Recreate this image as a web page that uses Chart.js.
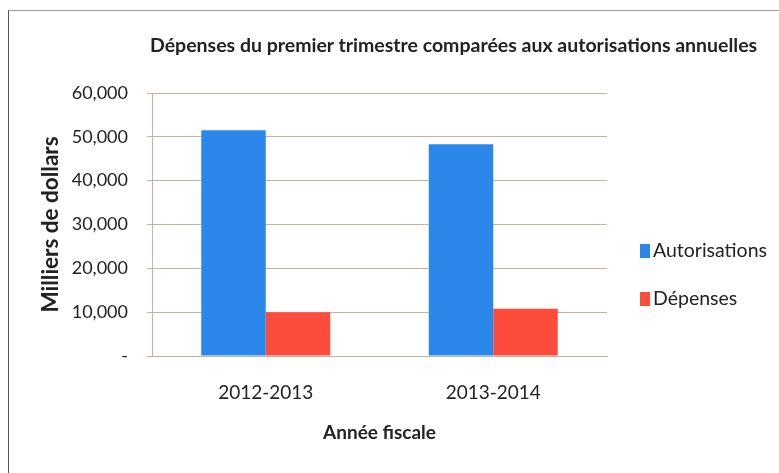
<!DOCTYPE html>
<html>
<head>
<meta charset="utf-8">
<script src="https://cdn.jsdelivr.net/npm/chart.js@4.4.1/dist/chart.umd.min.js"></script>
<style>
    html, body { margin: 0; padding: 0; background: #fff; }
    #wrap { position: relative; width: 779px; height: 473px; overflow: hidden; font-family: Lato, 'Open Sans', sans-serif; }
    #frame { position: absolute; left: 8px; top: 10px; width: 800px; height: 500px; border-top: 1px solid #9a9a9a; border-left: 1px solid #555; }
    #titre { position: absolute; left: 150px; top: 33px; width: 606px; text-align: center; font-size: 19.5px; font-weight: bold; color: #222; white-space: nowrap; }
    #legende { position: absolute; left: 640px; top: 238px; font-size: 19.5px; color: #222; }
    #legende div { height: 48px; line-height: 24px; white-space: nowrap; }
    #legende span { display: inline-block; width: 10px; height: 14px; margin-right: 3px; vertical-align: -1px; }
    canvas { position: absolute; left: 0; top: 0; }
</style>
</head>
<body>
<div id="wrap">
    <div id="frame"></div>
    <canvas id="chartDepenses" width="779" height="473"></canvas>
    <div id="titre">Dépenses du premier trimestre comparées aux autorisations annuelles</div>
    <div id="legende"></div>
</div>
<script>
// ========== DONNÉES ==========
const annees = ['2012-2013', '2013-2014'];
const autorisations = [51500, 48300];
const depenses = [10000, 10800];
const ticksY = [0, 10000, 20000, 30000, 40000, 50000, 60000];

const bleu = '#2c87ea';
const rouge = '#fd4b3c';
const grille = '#c2b3a3';

(function() {
    'use strict';

    const ctx = document.getElementById('chartDepenses');
    const police = "Lato, 'Open Sans', sans-serif";

    const chart = new Chart(ctx, {
        type: 'bar',
        data: {
            labels: annees,
            datasets: [
                { label: 'Autorisations', data: autorisations, backgroundColor: bleu },
                { label: 'Dépenses', data: depenses, backgroundColor: rouge }
            ]
        },
        options: {
            responsive: false,
            animation: false,
            layout: { padding: { left: 37, top: 93, right: 172, bottom: 29 } },
            datasets: { bar: { barPercentage: 1, categoryPercentage: 0.567 } },
            plugins: {
                legend: { display: false },
                title: { display: false },
                tooltip: { enabled: false }
            },
            scales: {
                x: {
                    afterFit: (scale) => { scale.height = 88; },
                    grid: { display: false, drawTicks: false },
                    border: { color: grille },
                    ticks: { color: '#222', padding: 25, font: { family: police, size: 19 } },
                    title: { display: true, text: 'Année fiscale', color: '#222', padding: 0, font: { family: police, size: 19, weight: 'bold' } }
                },
                y: {
                    min: 0,
                    max: 60000,
                    afterFit: (scale) => { scale.width = 115; },
                    afterBuildTicks: (scale) => { scale.ticks = ticksY.map(v => ({ value: v })); },
                    grid: { color: grille, tickLength: 5 },
                    border: { color: grille },
                    ticks: {
                        color: '#222',
                        padding: 19,
                        font: { family: police, size: 18 },
                        callback: (value) => value === 0 ? '-' : value.toLocaleString('en-US')
                    },
                    title: { display: true, text: 'Milliers de dollars', color: '#222', padding: 0, font: { family: police, size: 22.5, weight: 'bold' } }
                }
            }
        }
    });

    // ========== LÉGENDE ==========
    const legende = document.getElementById('legende');
    chart.data.datasets.forEach(ds => {
        const item = document.createElement('div');
        item.innerHTML = '<span style="background:' + ds.backgroundColor + '"></span>' + ds.label;
        legende.appendChild(item);
    });
})();
</script>
</body>
</html>
